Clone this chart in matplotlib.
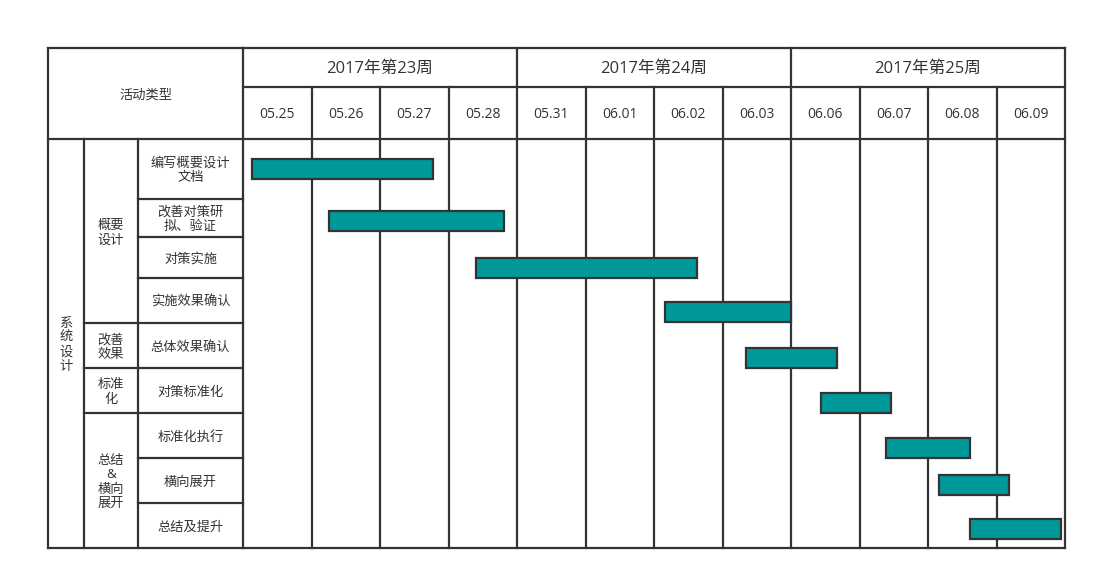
import matplotlib.pyplot as plt

# ---- data ----
weeks = ['2017年第23周', '2017年第24周', '2017年第25周']
dates = ['05.25', '05.26', '05.27', '05.28',
         '05.31', '06.01', '06.02', '06.03',
         '06.06', '06.07', '06.08', '06.09']
phase = '系\n统\n设\n计'
groups = ['概要\n设计', '改善\n效果', '标准\n化', '总结\n&\n横向\n展开']
group_span = [4, 1, 1, 3]
tasks = ['编写概要设计\n文档', '改善对策研\n拟、验证', '对策实施', '实施效果确认',
         '总体效果确认', '对策标准化', '标准化执行', '横向展开', '总结及提升']
# start / end of each bar, in date columns (0 = left edge of 05.25)
bar_start = [0.13, 1.26, 3.40, 6.16, 7.34, 8.44, 9.39, 10.16, 10.61]
bar_end = [2.77, 3.81, 6.63, 8.00, 8.67, 9.46, 10.61, 11.18, 11.94]

# ---- layout (pixels of the 1097x580 picture) ----
W, H = 1097, 580
top, bottom = 48, 548
week_bot, head_bot = 87, 139
col_left, col_grp, col_task, col_date, col_right = 48, 84, 138, 243, 1065
row_edges = [139, 199, 237, 278, 323, 368, 413, 458, 503, 548]
bar_shift = [-0.5, 2.5, 10, 11, 12, 12, 12, 4, 3.5]  # bar centre below row centre
bar_h = 20
dy = 1.5  # nudge text down a little

ink = '#333333'
teal = '#009999'
lw = 1.6
plt.rcParams['font.family'] = ['Open Sans', 'Noto Sans CJK SC', 'DejaVu Sans']

fig = plt.figure(figsize=(W / 100, H / 100), dpi=100)

# left part of the table, pixel coordinates
axl = fig.add_axes([col_left / W, 1 - bottom / H, (col_date - col_left) / W, (bottom - top) / H])
axl.set_xlim(col_left, col_date)
axl.set_ylim(bottom, top)
axl.axis('off')

# chart part, x in date columns, y in pixels
ax = fig.add_axes([col_date / W, 1 - bottom / H, (col_right - col_date) / W, (bottom - top) / H])
ax.set_xlim(0, len(dates))
ax.set_ylim(bottom, top)
ax.axis('off')

line = dict(color=ink, lw=lw, solid_capstyle='projecting', clip_on=False)
txt = dict(color=ink, ha='center', va='center', linespacing=1.15)

# left table frame
axl.plot([col_left, col_date], [top, top], **line)
axl.plot([col_left, col_date], [bottom, bottom], **line)
axl.plot([col_left, col_date], [head_bot, head_bot], **line)
axl.plot([col_left, col_left], [top, bottom], **line)
axl.plot([col_grp, col_grp], [head_bot, bottom], **line)
axl.plot([col_task, col_task], [head_bot, bottom], **line)
for y in row_edges[1:-1]:
    axl.plot([col_task, col_date], [y, y], **line)
acc = 0
for span in group_span[:-1]:
    acc += span
    axl.plot([col_grp, col_task], [row_edges[acc], row_edges[acc]], **line)

axl.text((col_left + col_date) / 2, (top + head_bot) / 2 + dy, '活动类型', fontsize=9.5, **txt)
axl.text((col_left + col_grp) / 2, (head_bot + bottom) / 2 + dy, phase, fontsize=9.5, **txt)
acc = 0
for g, span in zip(groups, group_span):
    yc = (row_edges[acc] + row_edges[acc + span]) / 2 + dy
    axl.text((col_grp + col_task) / 2, yc, g, fontsize=9.5, **txt)
    acc += span
for i, t in enumerate(tasks):
    axl.text((col_task + col_date) / 2, (row_edges[i] + row_edges[i + 1]) / 2 + dy, t,
             fontsize=9.5, **txt)

# chart header and grid
n = len(dates)
per_week = n // len(weeks)
ax.plot([0, n], [top, top], **line)
ax.plot([0, n], [bottom, bottom], **line)
ax.plot([0, n], [week_bot, week_bot], **line)
ax.plot([0, n], [head_bot, head_bot], **line)
for k in range(n + 1):
    y0 = top if k % per_week == 0 else week_bot
    ax.plot([k, k], [y0, bottom], **line)
for w, label in enumerate(weeks):
    ax.text(w * per_week + per_week / 2, (top + week_bot) / 2 + dy, label, fontsize=12, **txt)
for k, d in enumerate(dates):
    ax.text(k + 0.5, (week_bot + head_bot) / 2 + dy, d, fontsize=10, **txt)

# bars
for i in range(len(tasks)):
    yc = (row_edges[i] + row_edges[i + 1]) / 2 + bar_shift[i]
    ax.barh(yc, bar_end[i] - bar_start[i], left=bar_start[i], height=bar_h,
            color=teal, edgecolor=ink, linewidth=lw, zorder=3)

fig.savefig('out.png', dpi=100)
